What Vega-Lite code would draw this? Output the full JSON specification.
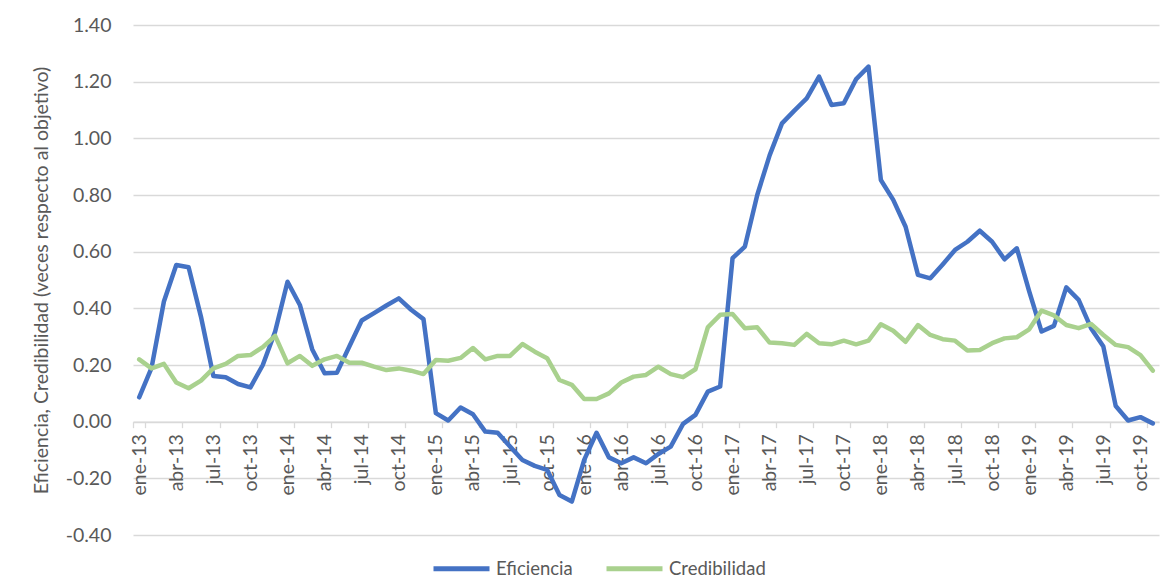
{
  "$schema": "https://vega.github.io/schema/vega-lite/v6.json",
  "width": 1026,
  "height": 510,
  "autosize": {"type": "none"},
  "padding": {"left": 133, "top": 25, "right": 13, "bottom": 45},
  "background": "white",
  "config": {
    "font": "Lato",
    "view": {"stroke": null},
    "axis": {"labelColor": "#595959", "titleColor": "#595959", "labelFont": "Lato", "titleFont": "Lato"}
  },
  "data": {"values": [
    {"mes":"ene-13","Eficiencia":0.086,"Credibilidad":0.22},
    {"mes":"feb-13","Eficiencia":0.19,"Credibilidad":0.188},
    {"mes":"mar-13","Eficiencia":0.424,"Credibilidad":0.204},
    {"mes":"abr-13","Eficiencia":0.553,"Credibilidad":0.138},
    {"mes":"may-13","Eficiencia":0.545,"Credibilidad":0.118},
    {"mes":"jun-13","Eficiencia":0.37,"Credibilidad":0.145},
    {"mes":"jul-13","Eficiencia":0.161,"Credibilidad":0.188},
    {"mes":"ago-13","Eficiencia":0.157,"Credibilidad":0.204},
    {"mes":"sep-13","Eficiencia":0.133,"Credibilidad":0.232},
    {"mes":"oct-13","Eficiencia":0.121,"Credibilidad":0.235},
    {"mes":"nov-13","Eficiencia":0.2,"Credibilidad":0.263},
    {"mes":"dic-13","Eficiencia":0.318,"Credibilidad":0.303},
    {"mes":"ene-14","Eficiencia":0.494,"Credibilidad":0.206},
    {"mes":"feb-14","Eficiencia":0.412,"Credibilidad":0.232},
    {"mes":"mar-14","Eficiencia":0.255,"Credibilidad":0.197},
    {"mes":"abr-14","Eficiencia":0.171,"Credibilidad":0.22},
    {"mes":"may-14","Eficiencia":0.173,"Credibilidad":0.232},
    {"mes":"jun-14","Eficiencia":0.265,"Credibilidad":0.208},
    {"mes":"jul-14","Eficiencia":0.357,"Credibilidad":0.208},
    {"mes":"ago-14","Eficiencia":0.383,"Credibilidad":0.194},
    {"mes":"sep-14","Eficiencia":0.41,"Credibilidad":0.182},
    {"mes":"oct-14","Eficiencia":0.435,"Credibilidad":0.188},
    {"mes":"nov-14","Eficiencia":0.395,"Credibilidad":0.18},
    {"mes":"dic-14","Eficiencia":0.362,"Credibilidad":0.168},
    {"mes":"ene-15","Eficiencia":0.03,"Credibilidad":0.218},
    {"mes":"feb-15","Eficiencia":0.004,"Credibilidad":0.215},
    {"mes":"mar-15","Eficiencia":0.05,"Credibilidad":0.225},
    {"mes":"abr-15","Eficiencia":0.026,"Credibilidad":0.26},
    {"mes":"may-15","Eficiencia":-0.035,"Credibilidad":0.22},
    {"mes":"jun-15","Eficiencia":-0.039,"Credibilidad":0.232},
    {"mes":"jul-15","Eficiencia":-0.088,"Credibilidad":0.232},
    {"mes":"ago-15","Eficiencia":-0.135,"Credibilidad":0.274},
    {"mes":"sep-15","Eficiencia":-0.156,"Credibilidad":0.247},
    {"mes":"oct-15","Eficiencia":-0.17,"Credibilidad":0.224},
    {"mes":"nov-15","Eficiencia":-0.259,"Credibilidad":0.147},
    {"mes":"dic-15","Eficiencia":-0.282,"Credibilidad":0.13},
    {"mes":"ene-16","Eficiencia":-0.135,"Credibilidad":0.08},
    {"mes":"feb-16","Eficiencia":-0.039,"Credibilidad":0.08},
    {"mes":"mar-16","Eficiencia":-0.126,"Credibilidad":0.1},
    {"mes":"abr-16","Eficiencia":-0.147,"Credibilidad":0.138},
    {"mes":"may-16","Eficiencia":-0.126,"Credibilidad":0.159},
    {"mes":"jun-16","Eficiencia":-0.147,"Credibilidad":0.165},
    {"mes":"jul-16","Eficiencia":-0.114,"Credibilidad":0.194},
    {"mes":"ago-16","Eficiencia":-0.088,"Credibilidad":0.168},
    {"mes":"sep-16","Eficiencia":-0.008,"Credibilidad":0.157},
    {"mes":"oct-16","Eficiencia":0.024,"Credibilidad":0.185},
    {"mes":"nov-16","Eficiencia":0.106,"Credibilidad":0.333},
    {"mes":"dic-16","Eficiencia":0.124,"Credibilidad":0.377},
    {"mes":"ene-17","Eficiencia":0.577,"Credibilidad":0.38},
    {"mes":"feb-17","Eficiencia":0.618,"Credibilidad":0.33},
    {"mes":"mar-17","Eficiencia":0.8,"Credibilidad":0.333},
    {"mes":"abr-17","Eficiencia":0.94,"Credibilidad":0.279},
    {"mes":"may-17","Eficiencia":1.053,"Credibilidad":0.277},
    {"mes":"jun-17","Eficiencia":1.098,"Credibilidad":0.271},
    {"mes":"jul-17","Eficiencia":1.141,"Credibilidad":0.31},
    {"mes":"ago-17","Eficiencia":1.218,"Credibilidad":0.277},
    {"mes":"sep-17","Eficiencia":1.118,"Credibilidad":0.273},
    {"mes":"oct-17","Eficiencia":1.124,"Credibilidad":0.286},
    {"mes":"nov-17","Eficiencia":1.209,"Credibilidad":0.273},
    {"mes":"dic-17","Eficiencia":1.253,"Credibilidad":0.286},
    {"mes":"ene-18","Eficiencia":0.853,"Credibilidad":0.344},
    {"mes":"feb-18","Eficiencia":0.783,"Credibilidad":0.321},
    {"mes":"mar-18","Eficiencia":0.688,"Credibilidad":0.282},
    {"mes":"abr-18","Eficiencia":0.518,"Credibilidad":0.341},
    {"mes":"may-18","Eficiencia":0.506,"Credibilidad":0.306},
    {"mes":"jun-18","Eficiencia":0.555,"Credibilidad":0.291},
    {"mes":"jul-18","Eficiencia":0.606,"Credibilidad":0.286},
    {"mes":"ago-18","Eficiencia":0.635,"Credibilidad":0.251},
    {"mes":"sep-18","Eficiencia":0.674,"Credibilidad":0.253},
    {"mes":"oct-18","Eficiencia":0.635,"Credibilidad":0.277},
    {"mes":"nov-18","Eficiencia":0.573,"Credibilidad":0.294},
    {"mes":"dic-18","Eficiencia":0.612,"Credibilidad":0.298},
    {"mes":"ene-19","Eficiencia":0.46,"Credibilidad":0.326},
    {"mes":"feb-19","Eficiencia":0.318,"Credibilidad":0.392},
    {"mes":"mar-19","Eficiencia":0.338,"Credibilidad":0.375},
    {"mes":"abr-19","Eficiencia":0.474,"Credibilidad":0.341},
    {"mes":"may-19","Eficiencia":0.43,"Credibilidad":0.33},
    {"mes":"jun-19","Eficiencia":0.33,"Credibilidad":0.345},
    {"mes":"jul-19","Eficiencia":0.265,"Credibilidad":0.306},
    {"mes":"ago-19","Eficiencia":0.055,"Credibilidad":0.271},
    {"mes":"sep-19","Eficiencia":0.004,"Credibilidad":0.263},
    {"mes":"oct-19","Eficiencia":0.016,"Credibilidad":0.235},
    {"mes":"nov-19","Eficiencia":-0.006,"Credibilidad":0.18}
  ]},
  "transform": [{"fold": ["Eficiencia", "Credibilidad"], "as": ["serie", "valor"]}],
  "mark": {"type": "line", "strokeWidth": 4.5, "strokeJoin": "round", "strokeCap": "round"},
  "encoding": {
    "x": {
      "field": "mes", "type": "ordinal", "sort": null, "bandPosition": 0.5,
      "scale": {"type": "band", "paddingInner": 0, "paddingOuter": 0},
      "axis": {
        "title": null,
        "values": ["ene-13","abr-13","jul-13","oct-13","ene-14","abr-14","jul-14","oct-14","ene-15","abr-15","jul-15","oct-15","ene-16","abr-16","jul-16","oct-16","ene-17","abr-17","jul-17","oct-17","ene-18","abr-18","jul-18","oct-18","ene-19","abr-19","jul-19","oct-19"],
        "offset": -113.33,
        "labelAngle": -90, "labelAlign": "right", "labelBaseline": "middle",
        "labelFontSize": 19.5, "labelPadding": 6,
        "tickBand": "extent", "tickSize": 6, "tickColor": "#d9d9d9", "tickWidth": 1.3,
        "domainColor": "#d9d9d9", "domainWidth": 1.3,
        "grid": false
      }
    },
    "y": {
      "field": "valor", "type": "quantitative",
      "scale": {"domain": [-0.4, 1.4], "nice": false, "zero": false},
      "axis": {
        "title": "Eficiencia, Credibilidad (veces respecto al objetivo)",
        "titleFontSize": 19.5, "titleFontWeight": "normal", "titlePadding": 14,
        "values": [-0.4, -0.2, 0, 0.2, 0.4, 0.6, 0.8, 1.0, 1.2, 1.4],
        "format": ".2f", "labelExpr": "replace(datum.label, '\u2212', '-')",
        "labelFontSize": 19.5, "labelPadding": 22,
        "ticks": false, "domain": false,
        "gridColor": "#d9d9d9", "gridWidth": 1.3
      }
    },
    "color": {
      "field": "serie", "type": "nominal",
      "scale": {"domain": ["Eficiencia", "Credibilidad"], "range": ["#4472C4", "#A9D18E"]},
      "legend": {
        "title": null, "orient": "none", "direction": "horizontal",
        "legendX": 298, "legendY": 513,
        "symbolType": "stroke", "symbolSize": 3136, "symbolStrokeWidth": 5,
        "labelFontSize": 18.5, "labelColor": "#595959", "labelFont": "Lato",
        "labelOffset": 4, "columnPadding": 23
      }
    }
  }
}
